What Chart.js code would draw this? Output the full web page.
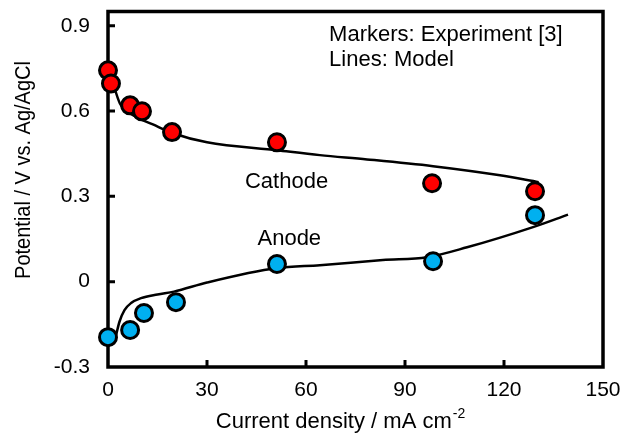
<!DOCTYPE html>
<html>
<head>
<meta charset="utf-8">
<script src="https://cdn.jsdelivr.net/npm/chart.js@4.4.0/dist/chart.umd.min.js"></script>
<style>
  html, body { margin: 0; padding: 0; background: #fff; }
  #wrap { width: 623px; height: 433px; }
</style>
</head>
<body>
<div id="wrap"><canvas id="potChart" width="623" height="433"></canvas></div>
<script>
// Polarization curves: experiment markers vs model lines
const FONT = "'Liberation Sans', Arial, sans-serif";

const xTicks = [0, 30, 60, 90, 120, 150];
const yTicks = [-0.3, 0, 0.3, 0.6, 0.9];

// Experiment (markers)
const cathodeExpX = [0, 0.9, 6.7, 10.3, 19.4, 51.2, 98.2, 129.4];
const cathodeExpY = [0.743, 0.697, 0.620, 0.599, 0.526, 0.490, 0.346, 0.318];
const anodeExpX = [0, 6.7, 10.9, 20.6, 51.2, 98.5, 129.4];
const anodeExpY = [-0.195, -0.170, -0.110, -0.072, 0.062, 0.072, 0.234];

// Model (lines)
const cathodeModelX = [0.3, 1.5, 3.6, 7.6, 13.6, 19.7, 30, 51.2, 64.2, 78.5, 98.5, 118.8, 130.5];
const cathodeModelY = [0.750, 0.700, 0.627, 0.585, 0.553, 0.522, 0.490, 0.462, 0.445, 0.430, 0.406, 0.374, 0.350];
const anodeModelX = [2.4, 3.5, 5, 7, 10, 15, 20, 30, 51.2, 64.2, 83.3, 96.7, 108.8, 128.8, 139.4];
const anodeModelY = [-0.190, -0.140, -0.100, -0.075, -0.058, -0.045, -0.035, -0.003, 0.048, 0.058, 0.076, 0.086, 0.121, 0.192, 0.236];

// Text labels inside the plot, in data coordinates (left edge, baseline)
const noteText = ['Markers: Experiment [3]', 'Lines: Model', 'Cathode', 'Anode'];
const noteX = [67, 67, 41.5, 45.3];
const noteY = [0.848, 0.757, 0.329, 0.129];

function toPoints(xs, ys) {
  return xs.map((x, i) => ({ x: x, y: ys[i] }));
}

// no extra room for overflowing tick labels, layout padding decides
function noOverflow(s) {
  s.paddingTop = 0;
  s.paddingBottom = 0;
  s.paddingLeft = 0;
  s.paddingRight = 0;
}

// Frame, inward ticks, axis titles and notes
const decorations = {
  id: 'decorations',
  beforeDatasetsDraw(chart) {
    const { ctx, chartArea: a, scales } = chart;
    ctx.save();
    ctx.strokeStyle = '#000';
    ctx.lineWidth = 3.5;
    ctx.strokeRect(a.left, a.top, a.right - a.left, a.bottom - a.top);
    ctx.lineWidth = 3;
    ctx.beginPath();
    yTicks.forEach(v => {
      if (v === yTicks[0]) return;
      const py = scales.y.getPixelForValue(v);
      ctx.moveTo(a.left, py);
      ctx.lineTo(a.left + 7, py);
    });
    xTicks.forEach(v => {
      if (v === xTicks[0] || v === xTicks[xTicks.length - 1]) return;
      const px = scales.x.getPixelForValue(v);
      ctx.moveTo(px, a.bottom);
      ctx.lineTo(px, a.bottom - 7);
    });
    ctx.stroke();
    ctx.restore();
  },
  afterDraw(chart) {
    const { ctx, scales } = chart;
    ctx.save();
    ctx.fillStyle = '#000';

    // notes
    ctx.font = '22px ' + FONT;
    ctx.textAlign = 'left';
    ctx.textBaseline = 'alphabetic';
    noteText.forEach((t, i) => {
      ctx.fillText(t, scales.x.getPixelForValue(noteX[i]), scales.y.getPixelForValue(noteY[i]));
    });

    // x title with superscript
    const main = 'Current density / mA cm';
    const sup = '-2';
    ctx.font = '22px ' + FONT;
    const wMain = ctx.measureText(main).width;
    ctx.font = '14px ' + FONT;
    const wSup = ctx.measureText(sup).width;
    const startX = 340 - (wMain + wSup) / 2;
    ctx.font = '22px ' + FONT;
    ctx.fillText(main, startX, 428);
    ctx.font = '14px ' + FONT;
    ctx.fillText(sup, startX + wMain + 1, 418);

    // y title
    ctx.font = '20px ' + FONT;
    ctx.translate(24, 170);
    ctx.rotate(-Math.PI / 2);
    ctx.scale(1, 1.08);
    ctx.textAlign = 'center';
    ctx.textBaseline = 'middle';
    ctx.fillText('Potential / V vs. Ag/AgCl', 0, 0);
    ctx.restore();
  }
};

const lineStyle = {
  showLine: true,
  borderColor: '#000',
  borderWidth: 2.5,
  pointRadius: 0,
  cubicInterpolationMode: 'monotone',
  clip: false
};

const markerStyle = {
  showLine: false,
  pointRadius: 8.5,
  pointBorderWidth: 3,
  pointBorderColor: '#000',
  clip: false
};

const chart = new Chart(document.getElementById('potChart').getContext('2d'), {
  type: 'scatter',
  data: {
    datasets: [
      Object.assign({ label: 'Cathode model', data: toPoints(cathodeModelX, cathodeModelY), order: 2 }, lineStyle),
      Object.assign({ label: 'Anode model', data: toPoints(anodeModelX, anodeModelY), order: 2 }, lineStyle),
      Object.assign({ label: 'Cathode exp', data: toPoints(cathodeExpX, cathodeExpY), pointBackgroundColor: '#ff0000', order: 1 }, markerStyle),
      Object.assign({ label: 'Anode exp', data: toPoints(anodeExpX, anodeExpY), pointBackgroundColor: '#00b0f0', order: 1 }, markerStyle)
    ]
  },
  options: {
    responsive: false,
    animation: false,
    layout: { padding: { top: 11, right: 20, left: 0, bottom: 0 } },
    plugins: {
      legend: { display: false },
      tooltip: { enabled: false }
    },
    scales: {
      x: {
        type: 'linear',
        min: 0,
        max: 150,
        afterBuildTicks: (s) => { s.ticks = xTicks.map(v => ({ value: v })); },
        afterFit: (s) => { s.height = 66; noOverflow(s); },
        grid: { display: false, drawTicks: false },
        border: { display: false },
        ticks: { color: '#000', padding: 11, font: { family: FONT, size: 21 } }
      },
      y: {
        type: 'linear',
        min: -0.3,
        max: 0.95,
        afterBuildTicks: (s) => { s.ticks = yTicks.map(v => ({ value: v })); },
        afterFit: (s) => { s.width = 108; noOverflow(s); },
        grid: { display: false, drawTicks: false },
        border: { display: false },
        ticks: {
          color: '#000',
          padding: 18,
          font: { family: FONT, size: 21 },
          callback: (v) => String(Math.round(v * 10) / 10)
        }
      }
    }
  },
  plugins: [decorations]
});
</script>
</body>
</html>
